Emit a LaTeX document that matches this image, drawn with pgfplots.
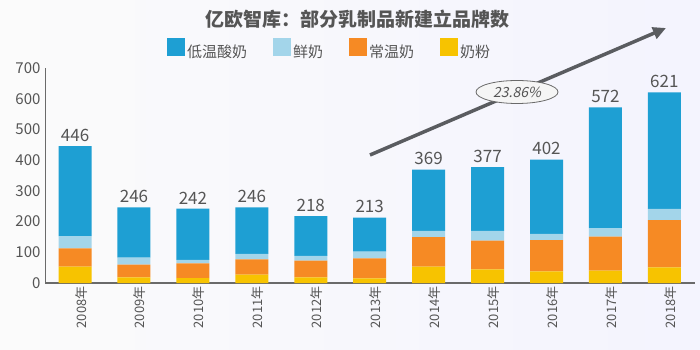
\documentclass[border=0pt]{standalone}
\usepackage{fontspec}
\setmainfont{Noto Sans CJK SC}
\newfontfamily\slfont[FakeSlant=0.22]{Noto Sans CJK SC}
\usepackage{pgfplots}
\pgfplotsset{compat=1.18}
\usepackage{pgfplotstable}
\usetikzlibrary{arrows.meta,shapes.geometric}
\definecolor{cYog}{HTML}{1E9FD3}
\definecolor{cFresh}{HTML}{A3D5EA}
\definecolor{cAmb}{HTML}{F68A24}
\definecolor{cPow}{HTML}{F7C300}
\definecolor{cTxt}{HTML}{555555}
\definecolor{cAx}{HTML}{6A6A6A}
\definecolor{cArr}{HTML}{5A5C60}
\pgfplotsset{mylegend/.style={legend image code/.code={\fill[##1,draw=none] (0pt,-4pt) rectangle (18pt,14pt);}}}
\pgfplotstableread{
x yog fresh amb pow total
0 293 40 60 53 446
1 163 23 42 18 246
2 167 11 48 16 242
3 151 18 50 27 246
4 130 15 55 18 218
5 111 22 65 15 213
6 199 21 96 53 369
7 207 32 94 44 377
8 242 20 102 38 402
9 393 28 111 40 572
10 380 36 154 51 621
}\data
\begin{document}
\begin{tikzpicture}[x=1pt,y=1pt]
\useasboundingbox (0,0) rectangle (700,350);
\shade[left color=white!60!gray!8, right color=gray!20!blue!5!white] (0,0) rectangle (700,350);
\node[text=cTxt,font=\fontsize{19}{22}\selectfont\bfseries] at (357,331) {亿欧智库：部分乳制品新建立品牌数};
\begin{axis}[
  at={(45pt,67pt)}, anchor=south west,
  scale only axis, width=650pt, height=215pt,
  ybar stacked, bar width=33pt,
  xmin=-0.51, xmax=10.52, ymin=0, ymax=700,
  enlarge x limits=false, enlarge y limits=false,
  axis lines*=left,
  axis line style={draw=cAx},
  x axis line style={line width=1.5pt},
  xtick=data,
  xticklabels={2008年,2009年,2010年,2011年,2012年,2013年,2014年,2015年,2016年,2017年,2018年},
  ytick={0,100,...,700},
  major tick length=0pt,
  tick style={draw=none},
  /pgf/number format/assume math mode=true,
  yticklabel style={font=\fontsize{15}{18}\selectfont, text=cTxt, xshift=-1pt},
  xticklabel style={font=\fontsize{13}{15}\selectfont, text=cTxt, rotate=90, anchor=east, yshift=-6pt},
  clip=false,
  reverse legend,
  legend columns=4,
  legend style={at={(0.438,1.084)}, anchor=center, draw=none, fill=none,
    font=\fontsize{15}{18}\selectfont, text=cTxt,
    /tikz/every even column/.append style={column sep=24pt}},
]
\addplot[fill=cPow, draw=none, mylegend] table[x=x,y=pow]{\data};
\addlegendentry{奶粉}
\addplot[fill=cAmb, draw=none, mylegend] table[x=x,y=amb]{\data};
\addlegendentry{常温奶}
\addplot[fill=cFresh, draw=none, mylegend] table[x=x,y=fresh]{\data};
\addlegendentry{鲜奶}
\addplot[fill=cYog, draw=none, mylegend] table[x=x,y=yog]{\data};
\addlegendentry{低温酸奶}
\end{axis}
\begin{axis}[
  at={(45pt,67pt)}, anchor=south west,
  scale only axis, width=650pt, height=215pt,
  ybar, bar width=33pt, bar shift=0pt,
  xmin=-0.51, xmax=10.52, ymin=0, ymax=700,
  enlarge x limits=false, enlarge y limits=false,
  hide axis, clip=false,
  /pgf/number format/assume math mode=true,
]
\addplot[draw=none, fill=none,
  nodes near coords,
  every node near coord/.append style={font=\fontsize{17}{19}\selectfont, text=cTxt, anchor=south, yshift=1pt}]
  table[x=x,y=total]{\data};
\end{axis}
\draw[cArr, line width=3.5pt, -{Triangle[length=13pt,width=12pt]}] (370,195) -- (666,322);
\node[ellipse, draw=cAx, line width=0.8pt, fill=white!92!gray, minimum width=82pt, minimum height=23pt, inner sep=0pt,
  text=cTxt, font=\slfont\fontsize{14}{16}\selectfont] at (517,258) {23.86\%};
\end{tikzpicture}
\end{document}
